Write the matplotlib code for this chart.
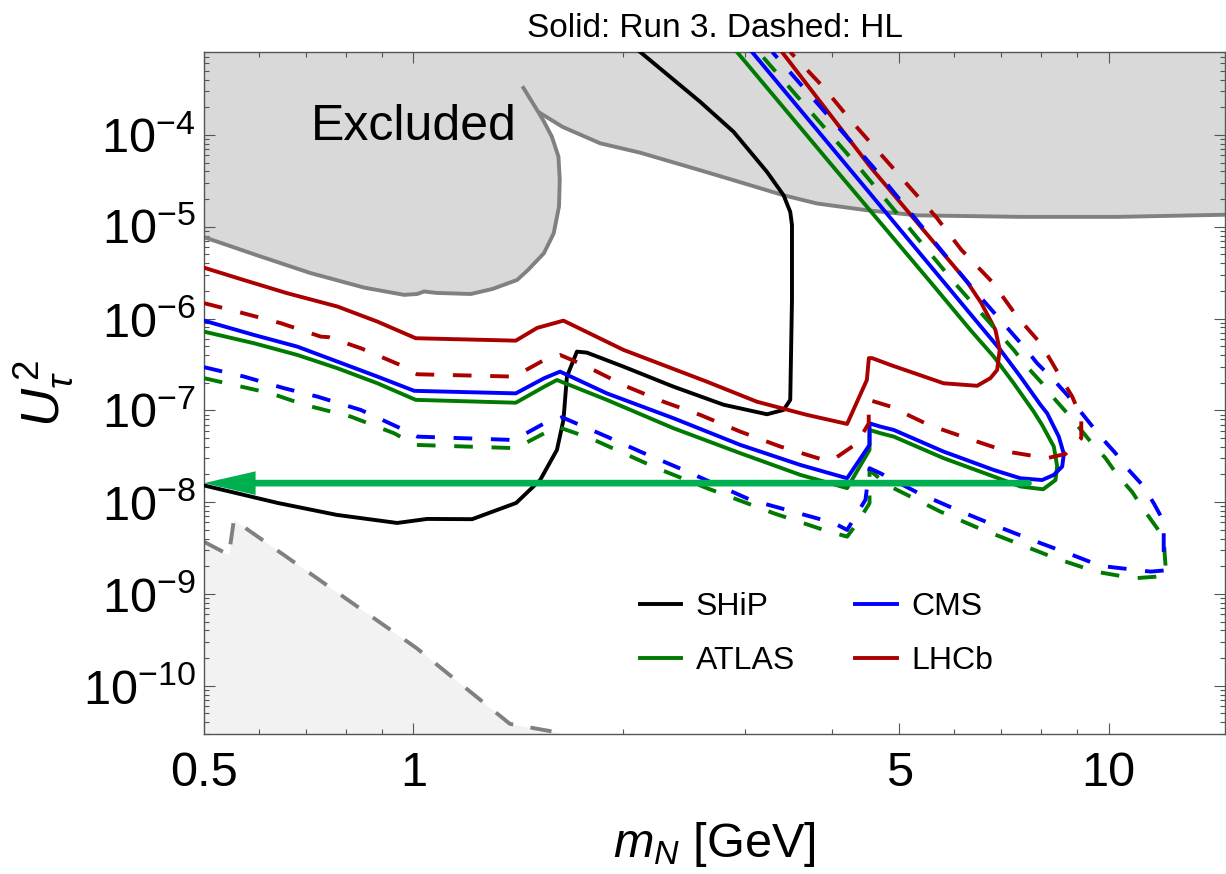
import numpy as np
import matplotlib
matplotlib.use("Agg")
import matplotlib.pyplot as plt
from matplotlib.lines import Line2D
from matplotlib.ticker import FixedLocator, FixedFormatter, NullFormatter

plt.rcParams['font.family'] = ['Liberation Sans', 'DejaVu Sans']
plt.rcParams['mathtext.fontset'] = 'custom'
plt.rcParams['mathtext.rm'] = 'Liberation Sans'
plt.rcParams['mathtext.it'] = 'Liberation Sans:italic'
plt.rcParams['mathtext.bf'] = 'Liberation Sans:bold'

# --- данные (m_N в ГэВ, U_tau^2) ---
# Исключённая область: левая граница с "горбом" и верхняя граница
EXCL_A_X = [0.5, 0.6, 0.71, 0.85, 0.97, 1.013, 1.036, 1.08, 1.21, 1.30, 1.41, 1.462, 1.541, 1.592,
            1.620, 1.624, 1.617, 1.582, 1.541, 1.511, 1.44]
EXCL_A_Y = [7.7e-6, 4.8e-6, 3.14e-6, 2.17e-6, 1.81e-6, 1.85e-6, 1.97e-6, 1.9e-6, 1.85e-6, 2.1e-6,
            2.63e-6, 3.38e-6, 5.14e-6, 8.49e-6, 1.66e-5, 3.24e-5, 5.81e-5, 9.58e-5, 1.40e-4, 1.80e-4,
            3.25e-4]
EXCL_B_X = [1.52, 1.64, 1.857, 2.12, 2.586, 2.888, 3.408, 3.807, 4.493, 5.302, 7.465, 10.3, 14.7]
EXCL_B_Y = [1.74e-4, 1.22e-4, 8.1e-5, 6.4e-5, 4.12e-5, 3.21e-5, 2.2e-5, 1.79e-5, 1.51e-5, 1.33e-5,
            1.28e-5, 1.28e-5, 1.35e-5]

# Нижняя (светлая) область, штриховая граница
LOW_X = [0.5, 0.543, 0.552, 1.01, 1.377, 1.62]
LOW_Y = [3.7e-9, 2.66e-9, 6.4e-9, 2.58e-10, 3.84e-11, 3.08e-11]

SHIP_X = [0.5, 0.638, 0.776, 0.948, 1.047, 1.215, 1.406, 1.522, 1.609, 1.644, 1.663, 1.719, 1.777,
          2.006, 2.367, 2.794, 3.226, 3.408, 3.484, 3.504, 3.504, 3.484, 3.408, 3.226, 2.888,
          2.586, 2.12]
SHIP_Y = [1.52e-8, 9.8e-9, 7.26e-9, 5.93e-9, 6.56e-9, 6.52e-9, 9.8e-9, 1.74e-8, 3.71e-8, 7.85e-8,
          2.33e-7, 4.36e-7, 4.25e-7, 2.99e-7, 1.81e-7, 1.15e-7, 9.06e-8, 1.01e-7, 1.30e-7, 1.60e-6,
          1.04e-5, 1.45e-5, 2.20e-5, 3.95e-5, 1.08e-4, 2.29e-4, 8.0e-4]

ATLAS_R3_X = [0.5, 0.590, 0.681, 0.778, 0.888, 1.008, 1.404, 1.543, 1.609, 1.898, 2.367, 2.953, 3.603,
              4.206, 4.53, 4.53, 4.697, 4.909, 5.79, 6.835, 7.465, 8.05, 8.385, 8.433, 8.339, 8.022,
              7.802, 7.303, 6.835, 6.325, 5.54, 4.018, 2.921]
ATLAS_R3_Y = [7.2e-7, 5.38e-7, 4.01e-7, 2.87e-7, 1.97e-7, 1.30e-7, 1.21e-7, 1.81e-7, 2.14e-7, 1.30e-7,
              6.38e-8, 3.41e-8, 1.98e-8, 1.42e-8, 3.71e-8, 6.11e-8, 5.63e-8, 5.17e-8, 3.01e-8, 1.90e-8,
              1.48e-8, 1.38e-8, 1.74e-8, 2.44e-8, 4.03e-8, 6.93e-8, 9.68e-8, 1.97e-7, 3.85e-7, 7.52e-7,
              2.51e-6, 4.48e-5, 8.0e-4]

CMS_R3_X = [0.5, 0.590, 0.681, 0.778, 0.888, 1.003, 1.404, 1.543, 1.626, 1.898, 2.367, 2.953, 3.603,
            4.206, 4.53, 4.53, 4.697, 4.909, 5.79, 6.835, 7.465, 8.022, 8.339, 8.574, 8.62, 8.478, 8.157,
            7.977, 7.465, 6.987, 6.61, 5.79, 4.217, 3.07]
CMS_R3_Y = [9.48e-7, 6.62e-7, 4.94e-7, 3.39e-7, 2.33e-7, 1.63e-7, 1.53e-7, 2.24e-7, 2.64e-7, 1.53e-7,
            8.2e-8, 4.2e-8, 2.54e-8, 1.82e-8, 4.2e-8, 7.22e-8, 6.64e-8, 6.11e-8, 3.55e-8, 2.24e-8,
            1.82e-8, 1.74e-8, 1.98e-8, 2.44e-8, 3.35e-8, 5.17e-8, 9.29e-8, 1.15e-7, 2.33e-7, 4.55e-7,
            7.52e-7, 2.51e-6, 4.48e-5, 8.0e-4]

LHCB_R3_X = [0.5, 0.57, 0.658, 0.778, 0.888, 1.008, 1.404, 1.507, 1.644, 2.006, 2.644, 3.121, 3.684,
             4.206, 4.49, 4.52, 4.57, 4.855, 5.79, 6.469, 6.759, 6.912, 6.971, 6.873, 6.56, 6.26, 4.54, 3.39]
LHCB_R3_Y = [3.58e-6, 2.63e-6, 1.89e-6, 1.35e-6, 9.25e-7, 6.10e-7, 5.74e-7, 7.9e-7, 9.48e-7, 4.55e-7,
             2.05e-7, 1.24e-7, 8.91e-8, 7.11e-8, 2.14e-7, 3.70e-7, 3.70e-7, 3.12e-7, 1.97e-7, 1.85e-7,
             2.24e-7, 2.75e-7, 4.55e-7, 7.52e-7, 1.47e-6, 2.5e-6, 4.5e-5, 8.0e-4]

ATLAS_HL_X = [0.5, 0.624, 0.697, 0.795, 0.813, 0.938, 1.008, 1.404, 1.543, 1.609, 1.797, 2.241, 2.644,
              3.297, 3.892, 4.206, 4.347, 4.53, 4.53, 4.802, 5.073, 5.728, 6.503, 7.384, 8.385, 9.576,
              10.87, 11.68, 12.07, 12.07, 12.0, 11.74, 11.24, 10.81, 10.29, 9.897, 9.418, 8.76, 8.339,
              8.022, 7.59, 7.303, 5.985, 4.37, 3.137]
ATLAS_HL_Y = [2.24e-7, 1.53e-7, 1.15e-7, 8.91e-8, 8.54e-8, 5.63e-8, 4.2e-8, 3.87e-8, 5.63e-8, 6.64e-8,
              4.97e-8, 2.34e-8, 1.42e-8, 7.57e-9, 4.98e-9, 4.21e-9, 5.89e-9, 9.73e-9, 2.24e-8, 1.54e-8,
              1.25e-8, 7.88e-9, 5.2e-9, 3.57e-9, 2.45e-9, 1.75e-9, 1.48e-9, 1.54e-9, 1.61e-9, 2.07e-9,
              3.87e-9, 5.2e-9, 8.22e-9, 1.29e-8, 1.98e-8, 3.01e-8, 4.56e-8, 8.91e-8, 1.36e-7, 1.97e-7,
              3.12e-7, 4.55e-7, 2.51e-6, 4.48e-5, 8.0e-4]

CMS_HL_X = [0.5, 0.571, 0.652, 0.728, 0.840, 0.970, 1.014, 1.396, 1.543, 1.636, 1.898, 2.120, 2.447,
            3.052, 4.023, 4.206, 4.469, 4.53, 4.697, 5.331, 6.053, 6.835, 7.802, 8.864, 9.735, 11.49,
            12.0, 12.0, 11.61, 11.18, 10.63, 10.23, 9.735, 9.111, 8.718, 8.339, 7.89, 7.548, 6.257,
            4.583, 3.283]
CMS_HL_Y = [2.95e-7, 2.33e-7, 1.74e-7, 1.41e-7, 1.01e-7, 6.11e-8, 5.17e-8, 4.75e-8, 7.22e-8, 8.41e-8,
            5.17e-8, 3.55e-8, 2.24e-8, 1.06e-8, 5.93e-9, 4.98e-9, 1.06e-8, 2.34e-8, 2.06e-8, 1.25e-8,
            8.22e-9, 5.64e-9, 3.81e-9, 2.66e-9, 2.02e-9, 1.75e-9, 1.8e-9, 6.14e-9, 9.73e-9, 1.54e-8,
            2.34e-8, 3.41e-8, 5.17e-8, 9.68e-8, 1.47e-7, 2.14e-7, 3.26e-7, 4.94e-7, 2.51e-6, 4.48e-5,
            8.0e-4]

LHCB_HL_X = [0.5, 0.558, 0.645, 0.736, 0.756, 0.840, 0.970, 1.013, 1.396, 1.543, 1.626, 1.757, 2.029,
             2.290, 2.586, 2.953, 3.371, 3.892, 4.01, 4.347, 4.518, 4.518, 4.855, 5.511, 6.257, 7.145,
             8.157, 8.669, 9.133, 9.133, 8.864, 8.574, 8.247, 7.977, 7.384, 6.8, 6.14, 5.64, 5.14, 4.88,
             4.25, 3.90, 3.484]
LHCB_HL_Y = [1.47e-6, 1.19e-6, 8.89e-7, 6.35e-7, 6.26e-7, 4.75e-7, 2.99e-7, 2.47e-7, 2.33e-7, 3.54e-7,
             4.01e-7, 3.12e-7, 1.81e-7, 1.24e-7, 8.91e-8, 5.86e-8, 4.03e-8, 2.88e-8, 2.88e-8, 4.38e-8,
             7.22e-8, 1.30e-7, 1.10e-7, 6.93e-8, 4.97e-8, 3.55e-8, 3.01e-8, 3.35e-8, 4.97e-8, 8.2e-8,
             1.41e-7, 2.14e-7, 3.54e-7, 5.38e-7, 1.05e-6, 2.5e-6, 5.6e-6, 1.29e-5, 2.85e-5, 4.48e-5,
             1.46e-4, 3.23e-4, 8.0e-4]

# Зелёная стрелка
ARROW_Y = 1.61e-8
ARROW_X_FROM = 7.67
ARROW_X_TO = 0.5

X_TICKS = [0.5, 1, 5, 10]
X_TICK_LABELS = ["0.5", "1", "5", "10"]
X_MINOR = [0.6, 0.7, 0.8, 0.9, 2, 3, 4, 6, 7, 8, 9]
Y_TICKS = [1e-10, 1e-9, 1e-8, 1e-7, 1e-6, 1e-5, 1e-4]
Y_TICK_LABELS = [r"$10^{-10}$", r"$10^{-9}$", r"$10^{-8}$", r"$10^{-7}$",
                 r"$10^{-6}$", r"$10^{-5}$", r"$10^{-4}$"]
Y_MINOR = [m * 10.0**e for e in range(-11, -3) for m in range(2, 10)]

XLIM = (0.5, 14.7)
YLIM = (2.98e-11, 8.0e-4)

# цвета
C_RED = "#aa0000"
C_GREEN = "#007a00"
C_BLUE = "#0000ff"
C_GREY = "#808080"
C_ARROW = "#00b050"

LW = 2.8
DASH = (4.8, 4.8)

fig = plt.figure(figsize=(12.26, 8.74), dpi=100)
ax = fig.add_axes([204/1226, 140/874, 1021/1226, 682/874])
ax.set_xscale("log"); ax.set_yscale("log")

# исключённая область
fill_x = EXCL_A_X[:-1] + EXCL_B_X + [20, 20, 0.4, 0.4]
fill_y = EXCL_A_Y[:-1] + EXCL_B_Y + [EXCL_B_Y[-1], 1e-2, 1e-2, EXCL_A_Y[0]]
ax.fill(fill_x, fill_y, color="#d9d9d9", lw=0, zorder=1)
ax.plot(EXCL_A_X, EXCL_A_Y, color=C_GREY, lw=LW, zorder=2, solid_joinstyle="round")
ax.plot(EXCL_B_X, EXCL_B_Y, color=C_GREY, lw=LW, zorder=2, solid_joinstyle="round")

ax.fill_between(LOW_X, LOW_Y, 1e-13, color="#f2f2f2", lw=0, zorder=1)
ax.plot(LOW_X, LOW_Y, color=C_GREY, lw=LW, dashes=(5.5, 4.5), zorder=2)

# кривые
ax.plot(SHIP_X, SHIP_Y, color="black", lw=LW, zorder=3, solid_joinstyle="round")
ax.plot(ATLAS_R3_X, ATLAS_R3_Y, color=C_GREEN, lw=LW, zorder=3, solid_joinstyle="round")
ax.plot(CMS_R3_X, CMS_R3_Y, color=C_BLUE, lw=LW, zorder=3, solid_joinstyle="round")
ax.plot(LHCB_R3_X, LHCB_R3_Y, color=C_RED, lw=LW, zorder=3, solid_joinstyle="round")
ax.plot(ATLAS_HL_X, ATLAS_HL_Y, color=C_GREEN, lw=LW, dashes=DASH, zorder=3)
ax.plot(CMS_HL_X, CMS_HL_Y, color=C_BLUE, lw=LW, dashes=DASH, zorder=3)
ax.plot(LHCB_HL_X, LHCB_HL_Y, color=C_RED, lw=LW, dashes=DASH, zorder=3)

# стрелка
ax.annotate("", xy=(ARROW_X_TO, ARROW_Y), xytext=(ARROW_X_FROM, ARROW_Y),
            arrowprops=dict(arrowstyle="-|>,head_length=2.4,head_width=0.55",
                            color=C_ARROW, lw=4.8, shrinkA=0, shrinkB=0, joinstyle="miter"),
            annotation_clip=False, zorder=5)

ax.text(1.0, 8.8e-5, "Excluded", fontsize=36, ha="center", va="baseline", zorder=4)

ax.set_xlim(*XLIM); ax.set_ylim(*YLIM)
ax.xaxis.set_major_locator(FixedLocator(X_TICKS))
ax.xaxis.set_major_formatter(FixedFormatter(X_TICK_LABELS))
ax.xaxis.set_minor_locator(FixedLocator(X_MINOR))
ax.xaxis.set_minor_formatter(NullFormatter())
ax.yaxis.set_major_locator(FixedLocator(Y_TICKS))
ax.yaxis.set_major_formatter(FixedFormatter(Y_TICK_LABELS))
ax.yaxis.set_minor_locator(FixedLocator(Y_MINOR))
ax.yaxis.set_minor_formatter(NullFormatter())

ax.tick_params(which="both", direction="in", top=True, right=True, color="#555555", width=0.8)
ax.tick_params(which="major", length=8)
ax.tick_params(which="minor", length=3.6)
ax.tick_params(axis="x", which="major", labelsize=35, pad=12)
ax.tick_params(axis="y", which="major", labelsize=35, pad=6)
for sp in ax.spines.values():
    sp.set_edgecolor("#555555"); sp.set_linewidth(1.0)

ax.set_title("Solid: Run 3. Dashed: HL", fontsize=24, pad=10.8)
ax.set_xlabel(r"$m_N$ [GeV]", fontsize=35)
ax.xaxis.set_label_coords(0.5, -0.126)
ax.set_ylabel(r"$U_\tau^{\,2}$", fontsize=38)
ax.yaxis.set_label_coords(-0.126, 0.5)

handles = [Line2D([], [], color="black", lw=LW),
           Line2D([], [], color=C_GREEN, lw=LW),
           Line2D([], [], color=C_BLUE, lw=LW),
           Line2D([], [], color=C_RED, lw=LW)]
labels = ["SHiP", "ATLAS", "CMS", "LHCb"]
ax.legend(handles, labels, ncol=2, loc="upper left", bbox_to_anchor=(0.4266, 0.2082),
          frameon=False, fontsize=23, handlelength=1.3, handletextpad=0.45,
          columnspacing=1.9, labelspacing=0.76, borderpad=0, borderaxespad=0)

plt.savefig("out.png", dpi=100)
